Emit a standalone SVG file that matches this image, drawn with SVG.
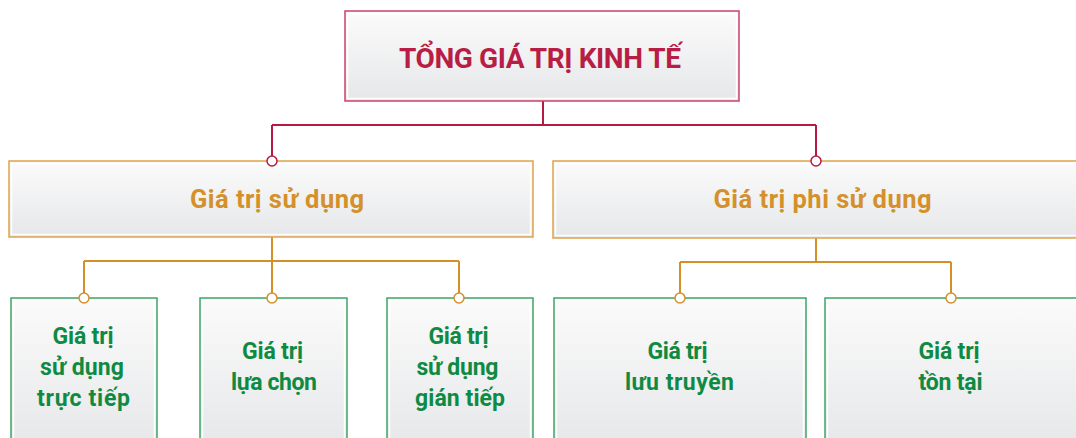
<svg xmlns="http://www.w3.org/2000/svg" width="1076" height="438" viewBox="0 0 1076 438">
<defs>
<linearGradient id="g" x1="0" y1="0" x2="0" y2="1">
<stop offset="0" stop-color="#fbfbfb"/>
<stop offset="1" stop-color="#e6e7e9"/>
</linearGradient>
<style>
.box{fill:url(#g);stroke-width:1.5}
.inner{fill:none;stroke:#ffffff;stroke-width:1.5;opacity:0.9}
.t{font-family:Roboto,"Noto Sans","Liberation Sans",sans-serif;font-weight:700;text-anchor:middle}
.top{stroke:#c8436a}
.l2{stroke:#e0a24a}
.l3{stroke:#3aa865}
.tt{fill:#b81d45;font-size:28px}
.t2{fill:#d4902a;font-size:25.5px}
.t3{fill:#0e8a43;font-size:23px}
.c1{fill:none;stroke:#b51a42;stroke-width:2}
.c2{fill:none;stroke:#d48f28;stroke-width:2}
.d1{fill:#fff;stroke:#b51a42;stroke-width:1.5}
.d2{fill:#fff;stroke:#d48f28;stroke-width:1.5}
</style>
</defs>
<g id="connectors">
<path class="c1" d="M543 101V125M272 125H816M272 125V156M816 125V156"/>
<path class="c2" d="M272 237V261M84 261H459M84 261V293M459 261V293M272 261V293"/>
<path class="c2" d="M816 238V262M680 262H951M680 262V293M951 262V293"/>
</g>
<g id="n-total">
<rect class="box top" x="345" y="11" width="394" height="90"/>
<rect class="inner" x="347.5" y="13.5" width="389" height="85"/>
<text class="t tt" x="540" y="68" textLength="282" lengthAdjust="spacing">TỔNG GIÁ TRỊ KINH TẾ</text>
</g>
<g id="n-use">
<rect class="box l2" x="9" y="161" width="524" height="76"/>
<rect class="inner" x="11.5" y="163.5" width="519" height="71"/>
<text class="t t2" x="277" y="208" textLength="174" lengthAdjust="spacing">Giá trị sử dụng</text>
</g>
<g id="n-nonuse">
<rect class="box l2" x="553" y="161" width="530" height="77"/>
<rect class="inner" x="555.5" y="163.5" width="525" height="72"/>
<text class="t t2" x="822.5" y="208" textLength="218" lengthAdjust="spacing">Giá trị phi sử dụng</text>
</g>
<g id="n-direct">
<rect class="box l3" x="11" y="298" width="146" height="150"/>
<rect class="inner" x="13.5" y="300.5" width="141" height="150"/>
<text class="t t3" x="83" y="344" textLength="61" lengthAdjust="spacing">Giá trị</text>
<text class="t t3" x="82" y="375" textLength="84" lengthAdjust="spacing">sử dụng</text>
<text class="t t3" x="83.5" y="406" textLength="93" lengthAdjust="spacing">trực tiếp</text>
</g>
<g id="n-option">
<rect class="box l3" x="200" y="298" width="147" height="150"/>
<rect class="inner" x="202.5" y="300.5" width="142" height="150"/>
<text class="t t3" x="272.5" y="358.5" textLength="61" lengthAdjust="spacing">Giá trị</text>
<text class="t t3" x="274" y="389.5" textLength="86" lengthAdjust="spacing">lựa chọn</text>
</g>
<g id="n-indirect">
<rect class="box l3" x="387" y="298" width="146" height="150"/>
<rect class="inner" x="389.5" y="300.5" width="141" height="150"/>
<text class="t t3" x="458.5" y="344" textLength="60" lengthAdjust="spacing">Giá trị</text>
<text class="t t3" x="457.5" y="375" textLength="82" lengthAdjust="spacing">sử dụng</text>
<text class="t t3" x="460" y="406" textLength="90" lengthAdjust="spacing">gián tiếp</text>
</g>
<g id="n-bequest">
<rect class="box l3" x="554" y="298" width="252" height="150"/>
<rect class="inner" x="556.5" y="300.5" width="247" height="150"/>
<text class="t t3" x="677.5" y="358.5" textLength="60" lengthAdjust="spacing">Giá trị</text>
<text class="t t3" x="679.5" y="389.5" textLength="109" lengthAdjust="spacing">lưu truyền</text>
</g>
<g id="n-existence">
<rect class="box l3" x="825" y="298" width="260" height="150"/>
<rect class="inner" x="827.5" y="300.5" width="255" height="150"/>
<text class="t t3" x="949" y="358.5" textLength="61" lengthAdjust="spacing">Giá trị</text>
<text class="t t3" x="950.5" y="389.5" textLength="64" lengthAdjust="spacing">tồn tại</text>
</g>
<g id="ports">
<circle class="d1" cx="272" cy="161" r="5"/>
<circle class="d1" cx="816" cy="161" r="5"/>
<circle class="d2" cx="84" cy="298" r="5"/>
<circle class="d2" cx="272" cy="298" r="5"/>
<circle class="d2" cx="459" cy="298" r="5"/>
<circle class="d2" cx="680" cy="298" r="5"/>
<circle class="d2" cx="951" cy="298" r="5"/>
</g>
</svg>
